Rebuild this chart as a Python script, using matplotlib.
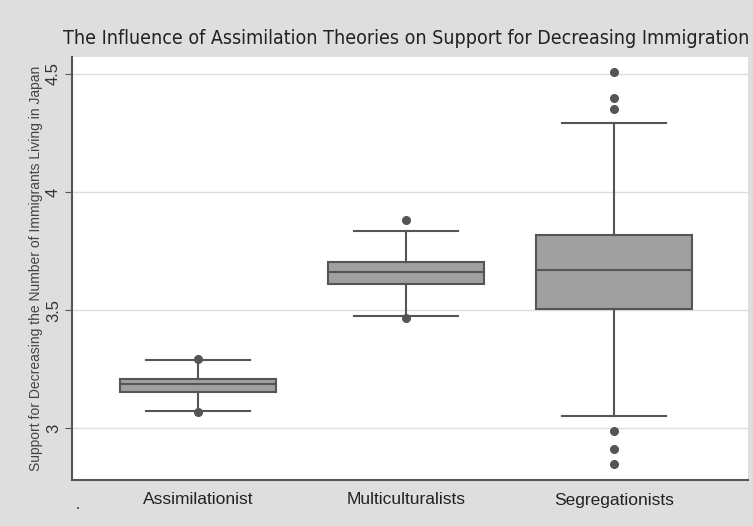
import matplotlib
matplotlib.use("Agg")
import matplotlib.pyplot as plt

plt.rcParams['font.family'] = ['Liberation Sans', 'DejaVu Sans']

categories = ["Assimilationist", "Multiculturalists", "Segregationists"]
q1 = [3.154, 3.610, 3.504]
med = [3.187, 3.661, 3.669]
q3 = [3.208, 3.703, 3.817]
whislo = [3.073, 3.475, 3.051]
whishi = [3.289, 3.834, 4.294]
fliers = [[3.068, 3.293], [3.466, 3.880], [2.848, 2.911, 2.987, 4.352, 4.398, 4.508]]
yticks = [3, 3.5, 4, 4.5]
ytick_labels = ["3", "3.5", "4", "4.5"]

bg = "#dedede"
edge = "#555555"
fig = plt.figure(figsize=(7.53, 5.26), dpi=100, facecolor=bg)
ax = fig.add_axes([72/753, 1-480/526, 676/753, 423/526])
ax.set_facecolor("white")

stats = []
for i, c in enumerate(categories):
    stats.append(dict(label=c, q1=q1[i], med=med[i], q3=q3[i],
                      whislo=whislo[i], whishi=whishi[i], fliers=fliers[i]))
pos = [1, 2, 3]
ax.bxp(stats, positions=pos, widths=0.75, patch_artist=True, showfliers=True,
       boxprops=dict(facecolor="#a0a0a0", edgecolor=edge, linewidth=1.5),
       medianprops=dict(color=edge, linewidth=1.5),
       whiskerprops=dict(color=edge, linewidth=1.5),
       capprops=dict(color=edge, linewidth=1.5),
       capwidths=0.5,
       flierprops=dict(marker="o", markerfacecolor="#555555", markeredgecolor="#555555", markersize=5.5))

ax.set_xlim(0.394, 3.644)
ax.set_ylim(2.78, 4.572)
ax.set_yticks(yticks)
ax.set_yticklabels(ytick_labels, rotation=90, va="center", fontsize=12, color="#333333")
ax.set_xticks(pos)
ax.set_xticklabels(categories, fontsize=12.5, color="#222222")
ax.tick_params(axis="x", length=0, pad=9)
ax.tick_params(axis="y", length=5, color=edge, pad=3)
ax.grid(axis="y", color="#dddddd", linewidth=1)
ax.set_axisbelow(True)
for s in ["top", "right"]:
    ax.spines[s].set_visible(False)
for s in ["left", "bottom"]:
    ax.spines[s].set_color(edge)
    ax.spines[s].set_linewidth(1.5)

ax.set_ylabel("Support for Decreasing the Number of Immigrants Living in Japan",
              fontsize=10, color="#444444", labelpad=2)
fig.text(406/753, 1-38/526, "The Influence of Assimilation Theories on Support for Decreasing Immigration",
         ha="center", va="center", fontsize=14, color="#222222",
         family="DejaVu Sans", stretch="condensed")
fig.text(78/753, 1-505/526, ".", ha="center", va="center", fontsize=11, color="#222222")

fig.savefig("out.png", dpi=100, facecolor=bg)
